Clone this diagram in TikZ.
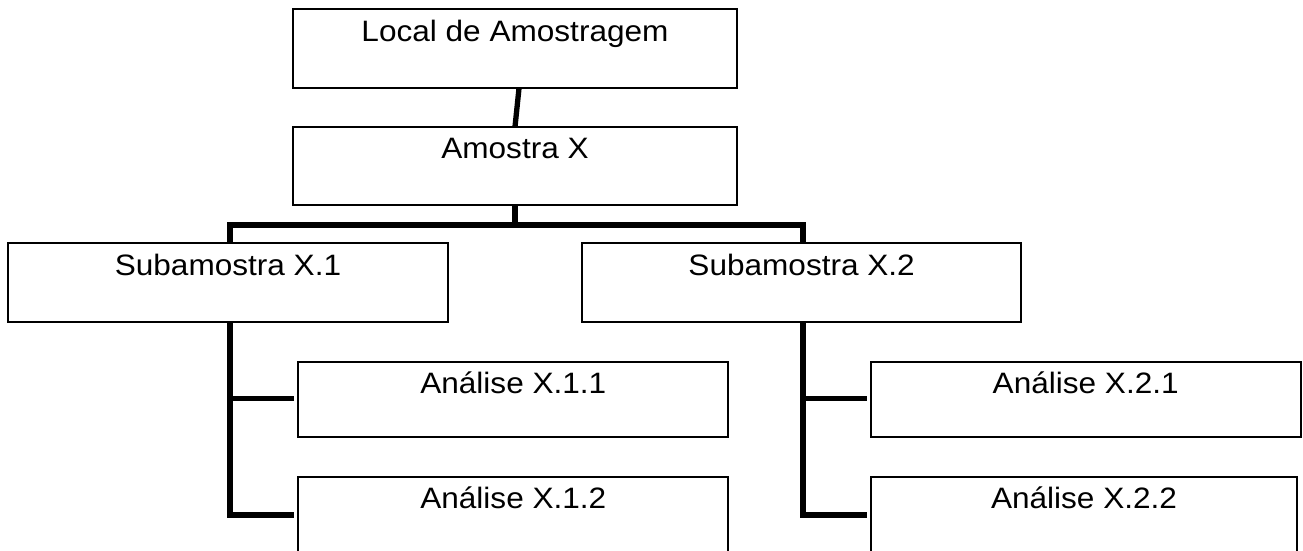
\documentclass[tikz,border=0pt]{standalone}
\usepackage{fontspec}
\setmainfont{Liberation Sans}
\begin{document}
\begin{tikzpicture}[x=1pt,y=-1pt,
  box/.style={draw=black, line width=1.8pt, fill=white, inner sep=0pt, outer sep=0pt,
    anchor=north west, text height=32pt, font=\fontsize{29.5}{34}\selectfont},
  conn/.style={draw=black, line width=5.3pt},
  txt/.code={}]
\newcommand{\wtxt}[1]{\scalebox{1.07}[1]{#1}}
\useasboundingbox (0,0) rectangle (1303,550);
\clip (0,0) rectangle (1303,550);
% boxes
\node[box, minimum width=443.4pt, text depth=47pt] (loc) at (293.3,9.3) {\wtxt{Local de Amostragem}};
\node[box, minimum width=443.4pt, text depth=46.3pt] (am) at (293.3,126.7) {\wtxt{Amostra X}};
\node[box, minimum width=439.4pt, text depth=46.4pt] (s1) at (8.3,243.3) {\wtxt{Subamostra X.1}};
\node[box, minimum width=438.7pt, text depth=46.4pt] (s2) at (582.3,243.3) {\wtxt{Subamostra X.2}};
\node[box, minimum width=430pt, text depth=43pt] (a11) at (298.3,361.7) {\wtxt{Análise X.1.1}};
\node[box, minimum width=430pt, text depth=48pt] (a12) at (298.3,476.7) {\wtxt{Análise X.1.2}};
\node[box, minimum width=430pt, text depth=43pt] (a21) at (870.7,361.7) {\wtxt{Análise X.2.1}};
\node[box, minimum width=426.6pt, text depth=48pt] (a22) at (870.7,476.7) {\wtxt{Análise X.2.2}};
% connectors
\draw[conn] ([xshift=4pt]loc.south) -- (am.north);
\coordinate (bus) at (515,225);
\draw[conn] (am.south) -- (bus);
\draw[conn] (s1.north -| 230,0) -- (230,225) -- (803,225) -- (s2.north -| 803,0);
\coordinate (v1) at (230,517.5);
\draw[conn] (s1.south -| v1) -- (v1);
\draw[conn] (230,398.3) -- ([xshift=-4pt]a11.west |- 0,398.3);
\draw[conn] (227.35,515) -- ([xshift=-4pt]a12.west |- 0,515);
\coordinate (v2) at (803,517.5);
\draw[conn] (s2.south -| v2) -- (v2);
\draw[conn] (803,398.3) -- ([xshift=-4pt]a21.west |- 0,398.3);
\draw[conn] (800.35,515) -- ([xshift=-4pt]a22.west |- 0,515);
\end{tikzpicture}
\end{document}
